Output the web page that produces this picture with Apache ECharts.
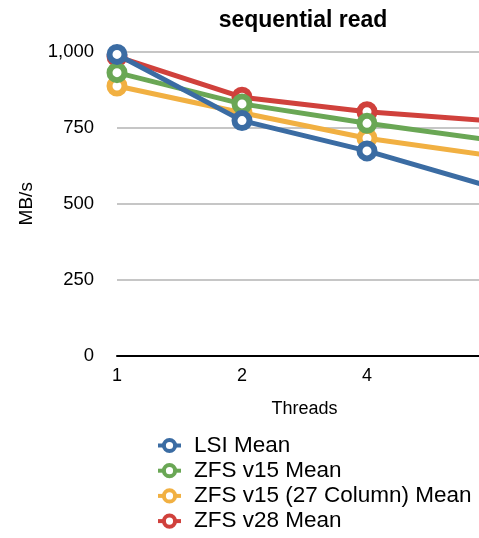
<!DOCTYPE html>
<html><head><meta charset="utf-8">
<script src="https://cdn.jsdelivr.net/npm/echarts@6/dist/echarts.min.js"></script>
<style>html,body{margin:0;padding:0;background:#fff}#c{width:479px;height:538px}</style>
</head><body><div id="c"></div>
<script>
const threads = ['1', '2', '4', '8'];
const yTicks = [0, 250, 500, 750, 1000];
const lsiMean = [992, 774, 674, 555];
const zfsV15Mean = [932, 829, 765, 709];
const zfsV15ColMean = [888, 800, 716, 658];
const zfsV28Mean = [985, 851, 803, 773];
const seriesNames = ['LSI Mean', 'ZFS v15 Mean', 'ZFS v15 (27 Column) Mean', 'ZFS v28 Mean'];
const colors = ['#3b6ca3', '#6aa755', '#f1b042', '#d0413c'];
const seriesData = [lsiMean, zfsV15Mean, zfsV15ColMean, zfsV28Mean];
const zOrder = [5, 4, 3, 2];
const font = '"Liberation Sans", Arial, Helvetica, sans-serif';

const chart = echarts.init(document.getElementById('c'));
chart.setOption({
  animation: false,
  backgroundColor: '#fff',
  title: {
    text: 'sequential read', left: 298, top: 4, textAlign: 'center',
    textStyle: { fontFamily: font, fontSize: 23, fontWeight: 'bold', color: '#000' }
  },
  legend: {
    orient: 'vertical', left: 156, top: 434, padding: 0, itemGap: 2.2, itemWidth: 23, itemHeight: 14,
    height: 104,
    data: seriesNames,
    itemStyle: { borderWidth: 4 },
    lineStyle: { width: 4 },
    textStyle: { fontFamily: font, fontSize: 22.5, color: '#000', padding: [0, 0, 0, 8] }
  },
  grid: { left: 117, right: -13, top: 52, bottom: 538 - 355.5, containLabel: false, outerBoundsMode: 'none' },
  xAxis: {
    type: 'category', data: threads, boundaryGap: false,
    name: 'Threads', nameLocation: 'middle', nameGap: 45,
    nameTextStyle: { fontFamily: font, fontSize: 18, color: '#000' },
    axisLine: { lineStyle: { color: '#000', width: 2 } },
    axisTick: { show: false },
    axisLabel: { fontFamily: font, fontSize: 18, color: '#000', margin: 12 },
    splitLine: { show: false }
  },
  yAxis: {
    type: 'value', min: 0, max: 1000, interval: 250,
    name: 'MB/s', nameLocation: 'middle', nameGap: 81, nameRotate: 90,
    nameTextStyle: { fontFamily: font, fontSize: 19, color: '#000' },
    axisLine: { show: false }, axisTick: { show: false },
    axisLabel: {
      fontFamily: font, fontSize: 18.5, color: '#000', margin: 23,
      formatter: v => yTicks.includes(v) ? v.toLocaleString('en-US') : ''
    },
    splitLine: { lineStyle: { color: '#b3b3b3', width: 1.5 } }
  },
  series: seriesNames.map((n, i) => ({
    name: n, type: 'line', data: seriesData[i], z: zOrder[i],
    symbol: 'circle', symbolSize: 15, showSymbol: true,
    lineStyle: { color: colors[i], width: 5 },
    itemStyle: { color: '#fff', borderColor: colors[i], borderWidth: 6 },
    emphasis: { disabled: true }
  }))
});
</script></body></html>
